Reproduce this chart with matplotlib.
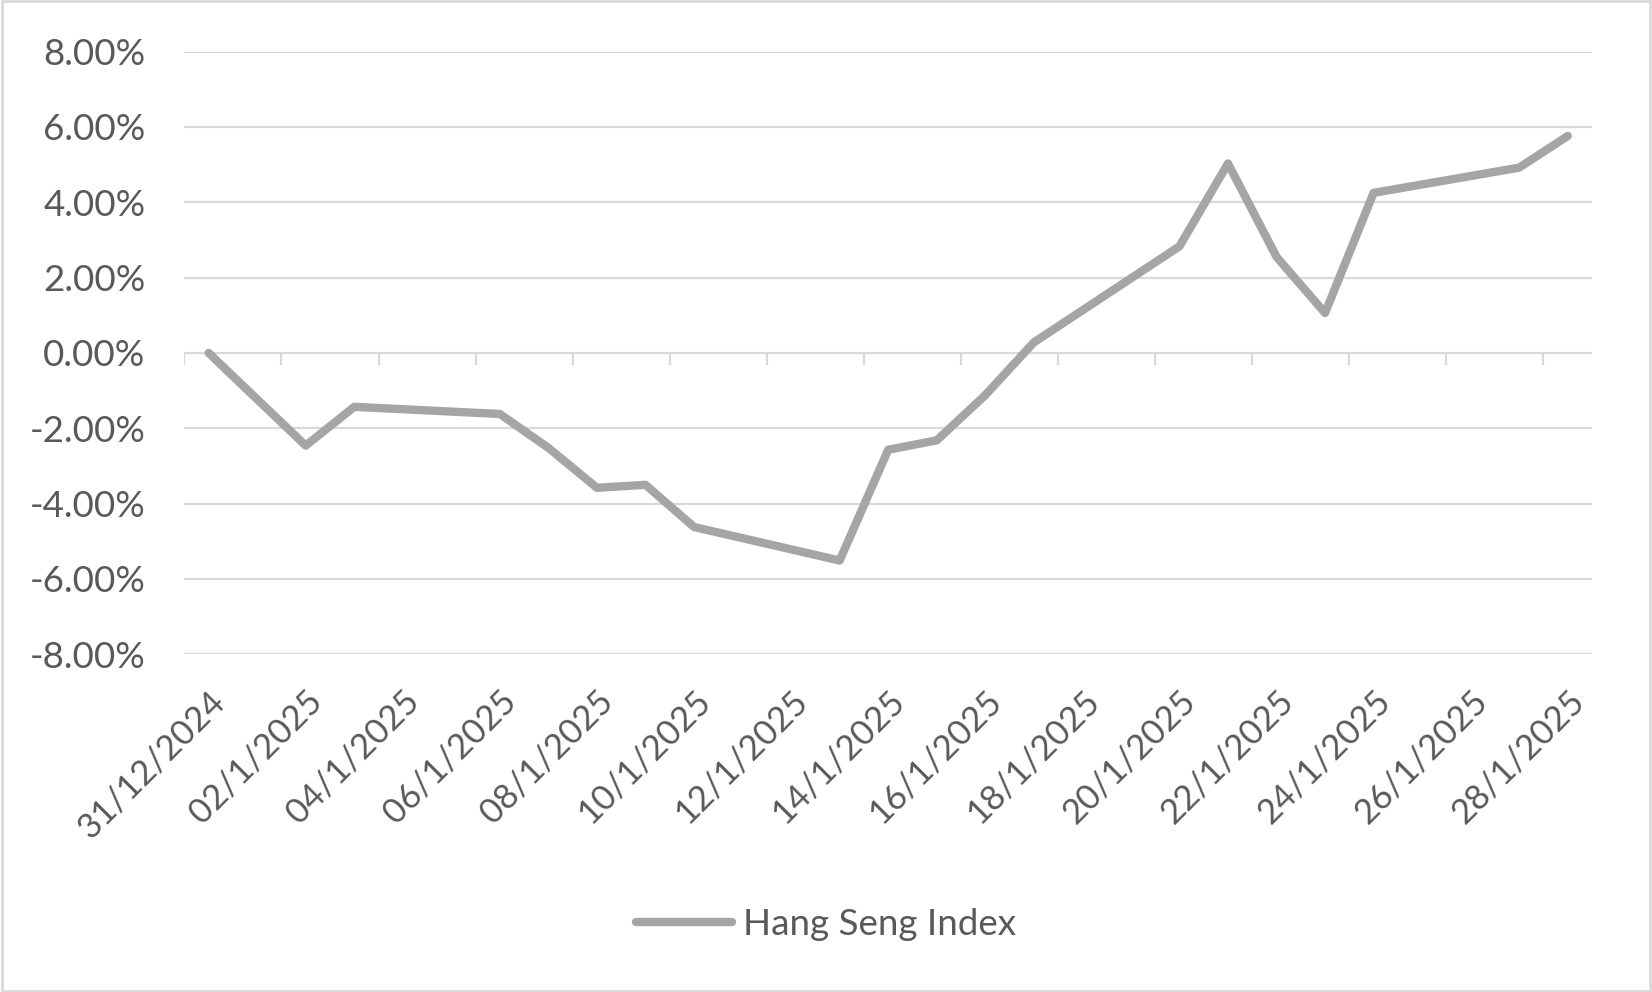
import pandas as pd
import matplotlib.pyplot as plt
from matplotlib.patches import Rectangle

# Trading days and cumulative change (%)
dates = ['2024-12-31', '2025-01-02', '2025-01-03', '2025-01-06', '2025-01-07',
         '2025-01-08', '2025-01-09', '2025-01-10', '2025-01-13', '2025-01-14',
         '2025-01-15', '2025-01-16', '2025-01-17', '2025-01-20', '2025-01-21',
         '2025-01-22', '2025-01-23', '2025-01-24', '2025-01-27', '2025-01-28']
change = [0.00, -2.46, -1.43, -1.62, -2.52, -3.58, -3.50, -4.62, -5.51, -2.57,
          -2.32, -1.12, 0.28, 2.83, 5.03, 2.55, 1.06, 4.25, 4.92, 5.76]
tick_labels = ['31/12/2024', '02/1/2025', '04/1/2025', '06/1/2025', '08/1/2025',
               '10/1/2025', '12/1/2025', '14/1/2025', '16/1/2025', '18/1/2025',
               '20/1/2025', '22/1/2025', '24/1/2025', '26/1/2025', '28/1/2025']
y_ticks = [-8, -6, -4, -2, 0, 2, 4, 6, 8]

plt.rcParams['font.family'] = ['Lato', 'DejaVu Sans']
text_color = '#595959'
grid_color = '#D9D9D9'

d = pd.to_datetime(dates)
x = (d - d[0]).days
n_days = x[-1] + 1

fig = plt.figure(figsize=(16.52, 9.92), dpi=100)
ax = fig.add_axes([0.1116, 0.3404, 0.8521, 0.6076])

for yv in y_ticks:
    ax.axhline(yv, color=grid_color, lw=1.6, zorder=1)

# tick marks between days, hanging below the zero line
bounds = [b - 0.5 for b in range(0, n_days, 2)]
ax.vlines(bounds, -0.32, 0, color=grid_color, lw=1.6, zorder=1)

ax.plot(x, change, color='#A5A5A5', lw=6, solid_joinstyle='round',
        solid_capstyle='round', zorder=3, label='Hang Seng Index')

ax.set_xlim(-0.5, n_days - 0.5)
ax.set_ylim(-8, 8)
ax.set_yticks(y_ticks)
ax.set_yticklabels(['{:.2f}%'.format(v) for v in y_ticks])
ax.set_xticks(range(0, n_days, 2))
ax.set_xticklabels(tick_labels, rotation=45, ha='right', va='top',
                   rotation_mode='anchor')
ax.tick_params(axis='both', length=0, labelcolor=text_color)
ax.tick_params(axis='x', pad=22, labelsize=25)
ax.tick_params(axis='y', pad=28, labelsize=26.5)
for s in ax.spines.values():
    s.set_visible(False)

fig.legend(loc='center', bbox_to_anchor=(0.5, 0.068), frameon=False,
           fontsize=26.5, labelcolor=text_color, handlelength=2.6,
           handletextpad=0.3)

fig.patches.append(Rectangle((0.001, 0.001), 0.998, 0.998, transform=fig.transFigure,
                             fill=False, edgecolor=grid_color, lw=2))

fig.savefig('out.png', dpi=100)
